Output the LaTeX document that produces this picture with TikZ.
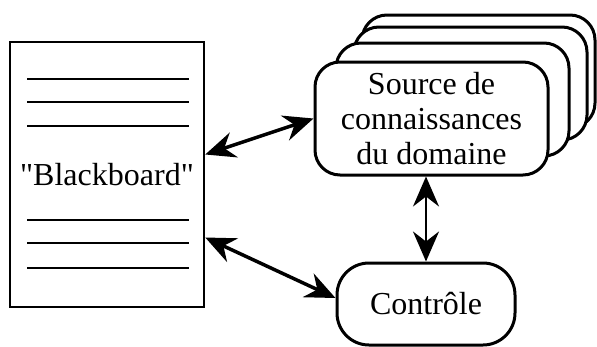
\documentclass[tikz,border=0pt]{standalone}
\usepackage{fontspec}
\setmainfont{Liberation Serif}
\usetikzlibrary{arrows.meta}

\begin{document}
\begin{tikzpicture}[x=1pt,y=-1pt,
	every node/.style={inner sep=0pt,font=\fontsize{32}{35}\selectfont},
	board/.style={draw,line width=2.5pt,minimum width=194pt,minimum height=265pt},
	ksource/.style={draw,fill=white,rounded corners=25pt,line width=3pt,
		minimum width=233pt,minimum height=113pt,align=center},
	ctrlbox/.style={draw,fill=white,rounded corners=32pt,line width=3pt,
		minimum width=178pt,minimum height=82pt},
	link/.style={line width=3.5pt,
		{Stealth[length=30pt,width=26pt,inset=10pt]}-{Stealth[length=30pt,width=26pt,inset=10pt]}}
]%1pt = 1px of the reference
\useasboundingbox (0,0) rectangle (597,346);
\node (bb) [board] at (107,174.5) {\textquotedbl Blackboard\textquotedbl};
\foreach \y in {79,102,126,220,243,268}
	\draw[line width=2.5pt] (27,\y) -- (189,\y);
\node (src4) [ksource] at (478.5,71.5) {};
\node (src3) [ksource] at (470.5,83.5) {};
\node (src2) [ksource] at (452.5,99.5) {};
\node (src) [ksource] at (431.5,118.5) {Source de\\connaissances\\du domaine};
\node (ctrl) [ctrlbox] at (426,304) {Contrôle};
\draw[link] ([yshift=20pt]bb.east) -- (src.west);
\draw[link] ([yshift=-63pt]bb.east) -- ([yshift=6pt]ctrl.west);
\draw[link,line width=2.5pt] (ctrl.north |- src.south) -- (ctrl.north);
\end{tikzpicture}
\end{document}
